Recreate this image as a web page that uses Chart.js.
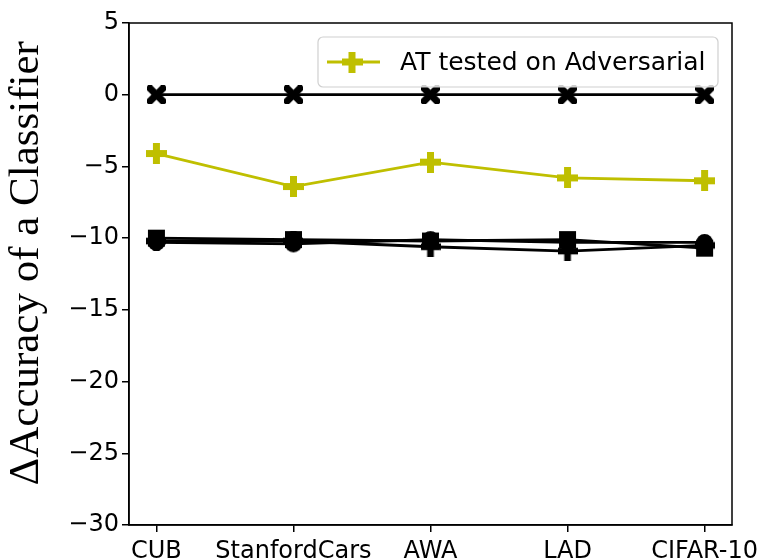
<!DOCTYPE html>
<html>
<head>
<meta charset="utf-8">
<script src="https://cdn.jsdelivr.net/npm/chart.js@4"></script>
<style>
  html, body { margin: 0; padding: 0; background: #fff; }
  #wrap { width: 761px; height: 560px; }
</style>
</head>
<body>
<div id="wrap"><canvas id="chart"></canvas></div>
<script>
// datasets on the x axis
const categories = ["CUB", "StanfordCars", "AWA", "LAD", "CIFAR-10"];
const yTicks = [5, 0, -5, -10, -15, -20, -25, -30];

// values
const baseline = [0, 0, 0, 0, 0];
const atAdversarial = [-4.1, -6.4, -4.7, -5.8, -6.0];
const squareSeries = [-10.0, -10.1, -10.2, -10.1, -10.7];
const circleSeries = [-10.3, -10.4, -10.1, -10.3, -10.3];
const plusSeries = [-10.2, -10.2, -10.6, -10.9, -10.5];

const YELLOW = "#bfbf00";

// filled marker shapes like matplotlib "X" and "P"
function makeMarker(shape, size, color) {
  const c = document.createElement("canvas");
  c.width = size; c.height = size;
  const ctx = c.getContext("2d");
  ctx.fillStyle = color;
  const h = size / 2, t = size / 6;
  if (shape === "plus") {
    ctx.fillRect(h - t, 0, 2 * t, size);
    ctx.fillRect(0, h - t, size, 2 * t);
  } else if (shape === "x") {
    ctx.translate(h, h);
    ctx.rotate(Math.PI / 4);
    const L = size * 0.66;
    ctx.fillRect(-t * 1.1, -L, 2.2 * t, 2 * L);
    ctx.fillRect(-L, -t * 1.1, 2 * L, 2.2 * t);
  } else if (shape === "square") {
    ctx.fillRect(1, 1, size - 2, size - 2);
  } else if (shape === "circle") {
    ctx.beginPath();
    ctx.arc(h, h, h - 1, 0, Math.PI * 2);
    ctx.fill();
  }
  return c;
}

const xMarker = makeMarker("x", 19, "#000");
const yellowPlus = makeMarker("plus", 21, YELLOW);
const blackPlus = makeMarker("plus", 20, "#000");
const blackSquare = makeMarker("square", 19, "#000");
const blackCircle = makeMarker("circle", 19, "#000");

const toPoints = (arr) => arr.map((v, i) => ({ x: i, y: v }));

function line(label, values, color, marker) {
  return {
    label: label,
    data: toPoints(values),
    borderColor: color,
    backgroundColor: color,
    borderWidth: 2.8,
    pointStyle: marker,
    pointRadius: 10,
    pointHoverRadius: 10,
    tension: 0
  };
}

const frame = {
  id: "frame",
  afterDraw(chart) {
    const { ctx, chartArea: a } = chart;
    ctx.save();
    ctx.strokeStyle = "#000";
    ctx.lineWidth = 1.5;
    ctx.strokeRect(a.left, a.top, a.right - a.left, a.bottom - a.top);
    ctx.restore();
  }
};

// legend box inside the plot (only the yellow series is listed)
const legendBox = {
  id: "legendBox",
  afterDraw(chart) {
    const ctx = chart.ctx;
    const ds = chart.data.datasets[1];
    const x = 318, y = 37, w = 400, h = 50;
    ctx.save();
    ctx.fillStyle = "rgba(255,255,255,0.8)";
    ctx.strokeStyle = "#d0d0d0";
    ctx.lineWidth = 1.2;
    ctx.beginPath();
    ctx.roundRect(x, y, w, h, 5);
    ctx.fill();
    ctx.stroke();
    ctx.strokeStyle = ds.borderColor;
    ctx.lineWidth = 2.8;
    ctx.beginPath();
    ctx.moveTo(x + 9, y + h / 2);
    ctx.lineTo(x + 62, y + h / 2);
    ctx.stroke();
    ctx.drawImage(yellowPlus, x + 34 - 10.5, y + h / 2 - 10.5);
    ctx.fillStyle = "#000";
    ctx.font = "25px 'DejaVu Sans'";
    ctx.textBaseline = "middle";
    ctx.fillText(ds.label, x + 82, y + h / 2 + 1);
    ctx.restore();
  }
};

new Chart(document.getElementById("chart"), {
  type: "line",
  data: {
    datasets: [
      line("Baseline", baseline, "#000", xMarker),
      line("AT tested on Adversarial", atAdversarial, YELLOW, yellowPlus),
      line("Square", squareSeries, "#000", blackSquare),
      line("Circle", circleSeries, "#000", blackCircle),
      line("Plus", plusSeries, "#000", blackPlus)
    ]
  },
  options: {
    responsive: true,
    maintainAspectRatio: false,
    animation: false,
    layout: { padding: { left: 0, top: 23, right: 29, bottom: 0 } },
    plugins: {
      legend: { display: false },
      tooltip: { enabled: false }
    },
    scales: {
      x: {
        type: "linear",
        min: -0.2,
        max: 4.2,
        afterBuildTicks: (axis) => {
          axis.ticks = categories.map((c, i) => ({ value: i }));
        },
        afterFit: (scale) => {
          scale.height = 35;
          scale.paddingLeft = 0;
          scale.paddingRight = 0;
        },
        ticks: {
          autoSkip: false,
          maxRotation: 0,
          padding: 5,
          color: "#000",
          font: { family: "DejaVu Sans", size: 24 },
          callback: (v) => categories[v]
        },
        grid: { drawOnChartArea: false, tickLength: 7, color: "#000", lineWidth: 1.5 },
        border: { color: "#000", width: 1.5 }
      },
      y: {
        min: -30,
        max: 5,
        afterBuildTicks: (axis) => {
          axis.ticks = yTicks.map((v) => ({ value: v }));
        },
        afterFit: (scale) => {
          scale.width = 129;
          scale.paddingTop = 0;
          scale.paddingBottom = 0;
        },
        ticks: {
          padding: 3,
          color: "#000",
          font: { family: "DejaVu Sans", size: 24 },
          callback: (v) => String(v).replace("-", "\u2212")
        },
        grid: { drawOnChartArea: false, tickLength: 7, color: "#000", lineWidth: 1.5 },
        border: { color: "#000", width: 1.5 },
        title: {
          display: true,
          // leading en space nudges the visible text up a little
          text: "\u2002\u0394Accuracy of a Classifier",
          color: "#000",
          font: { family: "Liberation Serif", size: 43, lineHeight: 1 },
          padding: { top: 5, bottom: 0 }
        }
      }
    }
  },
  plugins: [frame, legendBox]
});
</script>
</body>
</html>
